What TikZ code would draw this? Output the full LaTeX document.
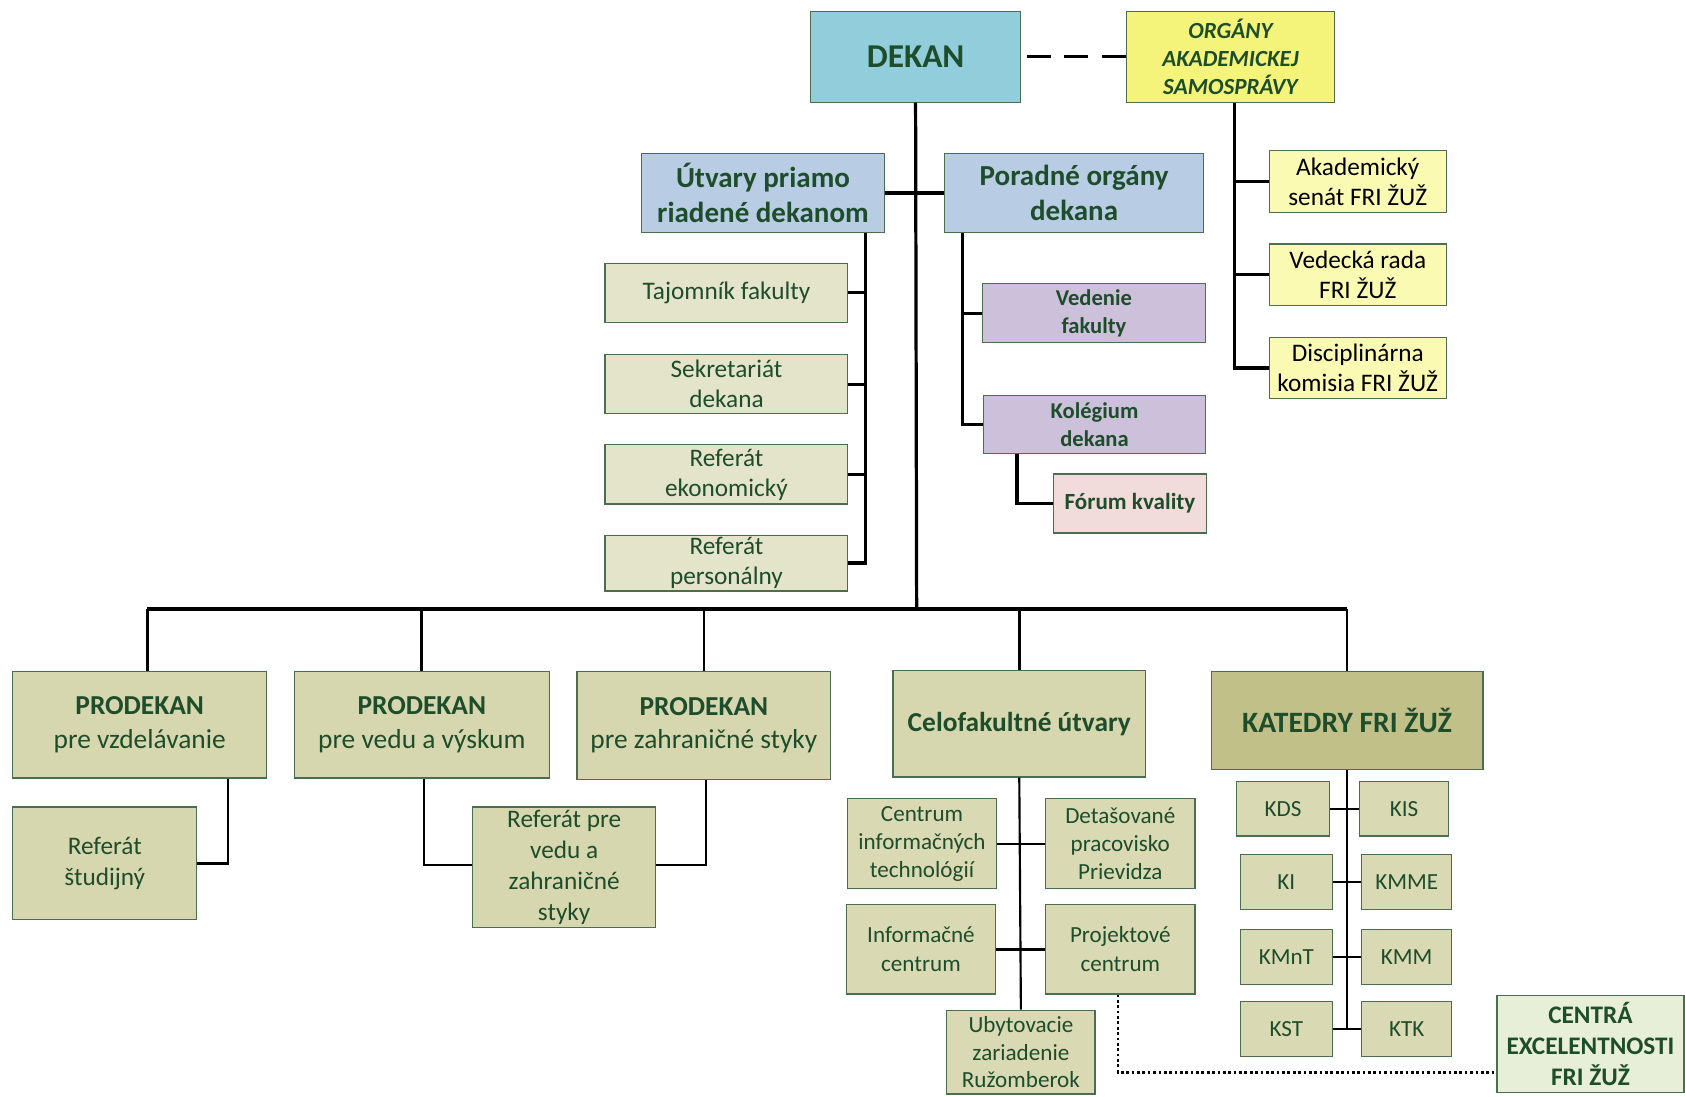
\documentclass[tikz,border=0pt]{standalone}
\usepackage{fontspec}
\setmainfont{Carlito}
\definecolor{dkg}{RGB}{30,77,43}
\definecolor{bord}{RGB}{76,110,80}
\definecolor{cDekan}{HTML}{92CDDC}
\definecolor{cOrg}{HTML}{F4F47A}
\definecolor{cBlue}{HTML}{B8CCE4}
\definecolor{cLight}{HTML}{E4E4CA}
\definecolor{cLav}{HTML}{CCC0DA}
\definecolor{cPink}{HTML}{F2DCDB}
\definecolor{cYel}{HTML}{FAFAB2}
\definecolor{cOlive}{HTML}{D7D7AF}
\definecolor{cKat}{HTML}{C0C088}
\definecolor{cSmall}{HTML}{D9D9B4}
\definecolor{cGreen}{HTML}{E8EFD8}
\newcommand\fsz[2]{\fontsize{#1}{#2}\selectfont}
\begin{document}
\begin{tikzpicture}[x=1pt,y=-1pt,
  box/.style={draw=bord, line width=1.1pt, inner sep=0pt, align=center, text=dkg},
  conn/.style={line width=3pt, black},
  mid conn/.style={line width=2.5pt, black},
  thin conn/.style={line width=2pt, black},
  sz/.style 2 args={minimum width=#1pt, minimum height=#2pt}]
\useasboundingbox (0,0) rectangle (1568,1020);

% top
\node[box, fill=cDekan, sz={196}{84}, font=\bfseries\fsz{31}{37}] (dekan) at (852,53) {DEKAN};
\node[box, fill=cOrg, sz={194}{84}, font=\bfseries\itshape\fsz{21.5}{26}] (org) at (1145,53) {ORGÁNY\\AKADEMICKEJ\\SAMOSPRÁVY};
\node[box, fill=cBlue, sz={226}{73}, font=\bfseries\fsz{27}{32.5}] (utv) at (710,179.5) {Útvary priamo\\riadené dekanom};
\node[box, fill=cBlue, sz={241}{73}, font=\bfseries\fsz{27}{32.5}] (por) at (999.5,179.5) {Poradné orgány\\dekana};

% left column
\node[box, fill=cLight, sz={226}{55}, font=\fsz{23.5}{28}] (taj) at (676,272.5) {Tajomník fakulty};
\node[box, fill=cLight, sz={226}{55}, font=\fsz{23.5}{28}] (sek) at (676,357.5) {Sekretariát\\dekana};
\node[box, fill=cLight, sz={226}{55}, font=\fsz{23.5}{28}] (rek) at (676,441.5) {Referát\\ekonomický};
\node[box, fill=cLight, sz={226}{52}, font=\fsz{23.5}{28}] (rper) at (676,524) {Referát\\personálny};

% poradne children
\node[box, fill=cLav, sz={208}{55}, font=\bfseries\fsz{21}{26}] (ved) at (1018,291.5) {Vedenie\\fakulty};
\node[box, fill=cLav, sz={207}{54}, font=\bfseries\fsz{21}{26}] (kol) at (1018.5,395) {Kolégium\\dekana};
\node[box, fill=cPink, sz={143}{55}, font=\bfseries\fsz{21.5}{26}] (for) at (1051.5,468.5) {Fórum kvality};

% org children
\node[box, fill=cYel, text=black, sz={165}{58}, font=\fsz{23.5}{28}] (aka) at (1263.5,169) {Akademický\\senát FRI ŽUŽ};
\node[box, fill=cYel, text=black, sz={165}{57}, font=\fsz{23.5}{28}] (vra) at (1263.5,255.5) {Vedecká rada\\FRI ŽUŽ};
\node[box, fill=cYel, text=black, sz={165}{57}, font=\fsz{23.5}{28}] (dis) at (1263.5,342.5) {Disciplinárna\\komisia FRI ŽUŽ};

% second level
\node[box, fill=cOlive, sz={236}{99}, font=\fsz{25.5}{31}] (pv) at (130,674.5) {\textbf{PRODEKAN}\\pre vzdelávanie};
\node[box, fill=cOlive, sz={237}{99}, font=\fsz{25.5}{31}] (pvv) at (392.5,674.5) {\textbf{PRODEKAN}\\pre vedu a výskum};
\node[box, fill=cOlive, sz={236}{100}, font=\fsz{25.5}{31}] (pz) at (655,675) {\textbf{PRODEKAN}\\pre zahraničné styky};
\node[box, fill=cOlive, sz={235}{99}, font=\bfseries\fsz{25.5}{31}] (cel) at (948.5,673.5) {Celofakultné útvary};
\node[box, fill=cKat, sz={253}{91}, font=\bfseries\fsz{27.5}{33}] (kat) at (1253.5,670.5) {KATEDRY FRI ŽUŽ};

\node[box, fill=cOlive, sz={171}{105}, font=\fsz{23.5}{29}] (rst) at (97.5,803.5) {Referát\\študijný};
\node[box, fill=cOlive, sz={170}{112}, font=\fsz{23.5}{29}] (rvz) at (525,807) {Referát pre\\vedu a\\zahraničné\\styky};

% celofakultne children
\node[box, fill=cSmall, sz={138}{84}, font=\fsz{21.5}{26}] (cit) at (858,785) {Centrum\\informačných\\technológií};
\node[box, fill=cSmall, sz={139}{84}, font=\fsz{21.5}{26}] (det) at (1042.5,785) {Detašované\\pracovisko\\Prievidza};
\node[box, fill=cSmall, sz={138}{83}, font=\fsz{21.5}{27}] (ic) at (857,883.5) {Informačné\\centrum};
\node[box, fill=cSmall, sz={139}{83}, font=\fsz{21.5}{27}] (pc) at (1042.5,883.5) {Projektové\\centrum};
\node[box, fill=cSmall, sz={138}{78}, font=\fsz{21.5}{26}] (ub) at (950,979) {Ubytovacie\\zariadenie\\Ružomberok};

% katedry
\node[box, fill=cSmall, sz={86}{51}, font=\fsz{21.5}{26}] (kds) at (1194,752.5) {KDS};
\node[box, fill=cSmall, sz={83}{51}, font=\fsz{21.5}{26}] (kis) at (1306.5,752.5) {KIS};
\node[box, fill=cSmall, sz={86}{51}, font=\fsz{21.5}{26}] (ki) at (1197,820.5) {KI};
\node[box, fill=cSmall, sz={84}{51}, font=\fsz{21.5}{26}] (kmme) at (1309,820.5) {KMME};
\node[box, fill=cSmall, sz={86}{51}, font=\fsz{21.5}{26}] (kmnt) at (1197,890.5) {KMnT};
\node[box, fill=cSmall, sz={84}{51}, font=\fsz{21.5}{26}] (kmm) at (1309,890.5) {KMM};
\node[box, fill=cSmall, sz={86}{51}, font=\fsz{21.5}{26}] (kst) at (1197,957.5) {KST};
\node[box, fill=cSmall, sz={84}{51}, font=\fsz{21.5}{26}] (ktk) at (1309,957.5) {KTK};

\node[box, fill=cGreen, sz={174}{91}, font=\bfseries\fsz{23.5}{28.5}] (cen) at (1480,971.5) {CENTRÁ\\EXCELENTNOSTI\\FRI ŽUŽ};

% connectors top
\coordinate (bus) at (853,567);
\draw[conn] (dekan.south) -- (bus);
\draw[conn, line width=2.8pt, dash pattern=on 22pt off 13pt, shorten <=5pt] (dekan.east) -- (org.west);
\draw[conn] (utv.east) -- (por.west);

\draw[conn] ([xshift=-18pt]utv.south east) coordinate (us) |- (rper.east);
\draw[conn] (taj.east) -- (taj.east -| us);
\draw[conn] (sek.east) -- (sek.east -| us);
\draw[conn] (rek.east) -- (rek.east -| us);

\draw[conn] ([xshift=17pt]por.south west) coordinate (ps) |- (kol.west);
\draw[conn] (ved.west) -- (ved.west -| ps);
\draw[conn] ([xshift=32pt]kol.south west) |- (for.west);

\draw[conn] ([xshift=4pt]org.south) coordinate (os) |- (dis.west);
\draw[conn] (aka.west) -- (aka.west -| os);
\draw[conn] (vra.west) -- (vra.west -| os);

% bus
\draw[conn, line width=3.4pt] ([xshift=7pt]pv.north |- bus) -- (kat.north |- bus);
\draw[mid conn] ([xshift=7pt]pv.north) -- ([xshift=7pt]pv.north |- bus);
\draw[mid conn] (pvv.north) -- (pvv.north |- bus);
\draw[mid conn] (pz.north) -- (pz.north |- bus);
\draw[mid conn] (cel.north) -- (cel.north |- bus);
\draw[mid conn] (kat.north) -- (kat.north |- bus);

% second level connectors
\draw[thin conn] ([xshift=-36pt]pv.south east) |- (rst.east);
\draw[thin conn] ([xshift=2pt]pvv.south) |- ([yshift=2pt]rvz.west);
\draw[thin conn] ([xshift=2pt]pz.south) |- ([yshift=2pt]rvz.east);

\draw[thin conn] (cel.south) -- (ub.north);
\draw[thin conn] (cit.east) -- (det.west);
\draw[thin conn] (ic.east) -- (pc.west);

\draw[thin conn] (kat.south) -- (kat.south |- kst.east);
\draw[thin conn] (kds.east) -- (kis.west);
\draw[thin conn] (ki.east) -- (kmme.west);
\draw[thin conn] (kmnt.east) -- (kmm.west);
\draw[thin conn] (kst.east) -- (ktk.west);

\draw[line width=2.5pt, dash pattern=on 2.5pt off 2.5pt] ([xshift=-2pt]pc.south) |- ([yshift=-26.5pt]cen.west);
\end{tikzpicture}
\end{document}
